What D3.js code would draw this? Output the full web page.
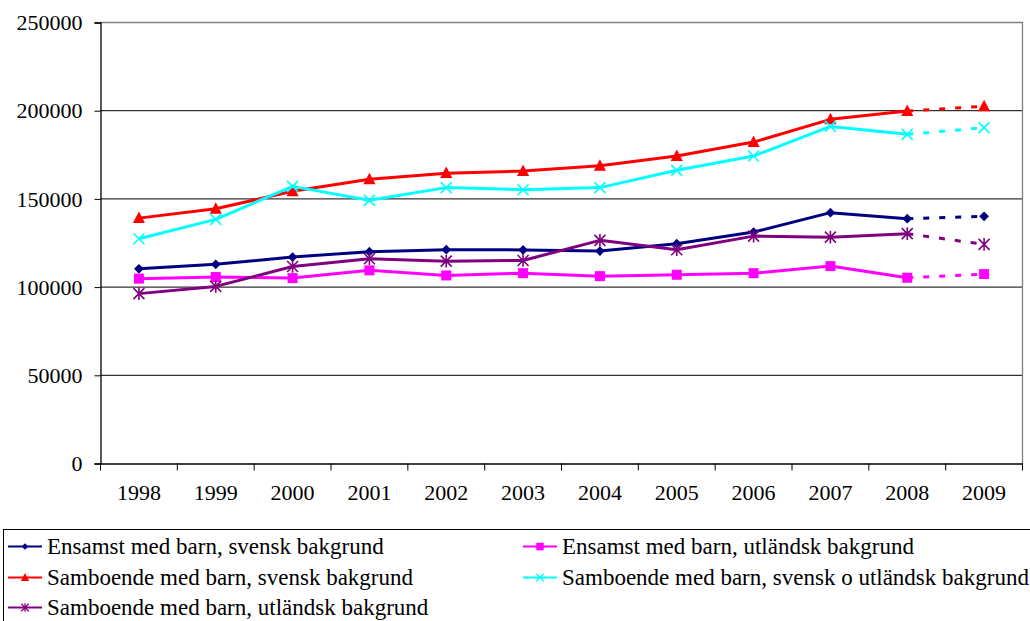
<!DOCTYPE html>
<html><head><meta charset="utf-8">
<script src="https://cdn.jsdelivr.net/npm/d3@7"></script>
<style>body{margin:0;background:#fff}svg{display:block}</style>
</head><body><svg id="c" width="1030" height="621"></svg>
<script>
const years = ["1998","1999","2000","2001","2002","2003","2004","2005","2006","2007","2008","2009"];
const yTicks = [0,50000,100000,150000,200000,250000];
const ensamstSvensk = [110400,112900,117000,120100,121200,121100,120400,124600,131200,142200,138800,140100];
const ensamstUtl = [104800,105700,105100,109500,106600,107900,106200,107000,107900,111900,105300,107400];
const samboSvensk = [139100,144400,154300,161100,164600,165800,168800,174300,182200,195100,199800,202500];
const samboSvUtl = [127400,138400,157100,149200,156400,155200,156400,166200,174300,191100,186600,190400];
const samboUtl = [96300,100400,111700,116100,114700,115100,126500,121200,128900,128300,130300,124200];
const seriesNames = ["Ensamst med barn, svensk bakgrund","Ensamst med barn, utländsk bakgrund","Samboende med barn, svensk bakgrund","Samboende med barn, svensk o utländsk bakgrund","Samboende med barn, utländsk bakgrund"];
const seriesColors = ["#000080","#FF00FF","#FF0000","#00FFFF","#800080"];
const seriesMarkers = ["diamond","square","triangle","x","star"];
const seriesValues = [ensamstSvensk, ensamstUtl, samboSvensk, samboSvUtl, samboUtl];

const FONT = "'Liberation Serif', 'DejaVu Serif', serif";
const svg = d3.select("#c");
const L = 100.5, R = 1022.5, T = 22.5, B = 463.5;
const x = d3.scaleBand().domain(years).range([L, R]);
const y = d3.scaleLinear().domain([0, 250000]).range([B, T]);

svg.append("g").selectAll("line").data(yTicks.filter(d => d > 0 && d < 250000)).join("line")
  .attr("x1", L).attr("x2", R).attr("y1", d => y(d)).attr("y2", d => y(d))
  .attr("stroke", "#000").attr("stroke-width", 1);
svg.append("path").attr("d", `M${L},${T}H${R}V${B}`).attr("fill", "none").attr("stroke", "#808080").attr("stroke-width", 1.3);

const ya = svg.append("g").attr("transform", `translate(${L},0)`)
  .call(d3.axisLeft(y).tickValues(yTicks).tickSize(6).tickFormat(d3.format("d")));
ya.attr("font-family", null).attr("font-size", null);
ya.select(".domain").attr("stroke", "#000").attr("stroke-width", 1.3);
ya.selectAll(".tick line").attr("stroke", "#000");
ya.selectAll("text").attr("x", -18).attr("dy", "0.33em").classed("ax", true);

const xa = svg.append("g").attr("transform", `translate(0,${B})`)
  .call(d3.axisBottom(x).tickSize(0).tickPadding(21));
xa.attr("font-family", null).attr("font-size", null);
xa.select(".domain").attr("stroke", "#000").attr("stroke-width", 1.3);
xa.selectAll("text").classed("ax", true);
const bounds = years.map(d => x(d)).concat([R]);
svg.append("g").selectAll("line").data(bounds).join("line")
  .attr("x1", d => d).attr("x2", d => d).attr("y1", B).attr("y2", B + 7)
  .attr("stroke", "#000").attr("stroke-width", 1);

const cx = d => x(d) + x.bandwidth() / 2;

function marker(g, type, color, s, sw) {
  if (type === "diamond") {
    g.append("path").attr("d", d3.symbol(d3.symbolDiamond2, s * s * 0.5)()).attr("fill", color);
  } else if (type === "square") {
    g.append("rect").attr("x", -s / 2).attr("y", -s / 2).attr("width", s).attr("height", s).attr("fill", color);
  } else if (type === "triangle") {
    g.append("path").attr("d", `M0,${-s * 0.6}L${s * 0.55},${s * 0.45}L${-s * 0.55},${s * 0.45}Z`).attr("fill", color);
  } else if (type === "x") {
    const h = s / 2;
    g.append("path").attr("d", `M${-h},${-h}L${h},${h}M${-h},${h}L${h},${-h}`).attr("stroke", color).attr("stroke-width", sw);
  } else if (type === "star") {
    const h = s / 2;
    g.append("path").attr("d", `M${-h},${-h}L${h},${h}M${-h},${h}L${h},${-h}M0,${-h * 1.15}V${h * 1.15}`).attr("stroke", color).attr("stroke-width", sw);
  }
}

const line = d3.line().x((d, i) => cx(years[i])).y(d => y(d));
seriesValues.forEach((vals, si) => {
  const g = svg.append("g");
  g.append("path").attr("d", line(vals.slice(0, 11))).attr("fill", "none").attr("stroke", seriesColors[si]).attr("stroke-width", 3).attr("stroke-linejoin", "round");
  const dashed = d3.line().x((d, i) => cx(years[10 + i])).y(d => y(d))(vals.slice(10, 12));
  g.append("path").attr("d", dashed).attr("fill", "none").attr("stroke", seriesColors[si]).attr("stroke-width", 3).attr("stroke-dasharray", "6 10");
  vals.forEach((v, i) => {
    const mg = g.append("g").attr("transform", `translate(${cx(years[i])},${y(v)})`);
    marker(mg, seriesMarkers[si], seriesColors[si], seriesMarkers[si] === "square" ? 10 : 11, 1.6);
  });
});

svg.append("rect").attr("x", 3.5).attr("y", 529.5).attr("width", 1040).attr("height", 120).attr("fill", "none").attr("stroke", "#000").attr("stroke-width", 1);
const legPos = [[8, 546.5], [523, 546.5], [8, 577.5], [523, 577.5], [8, 607.5]];
seriesNames.forEach((n, si) => {
  const [lx, ly] = legPos[si];
  const g = svg.append("g").attr("transform", `translate(${lx},${ly})`);
  g.append("line").attr("x1", 0).attr("x2", 34).attr("y1", 0).attr("y2", 0).attr("stroke", seriesColors[si]).attr("stroke-width", 2.2);
  marker(g.append("g").attr("transform", "translate(17,0)"), seriesMarkers[si], seriesColors[si], 7.5, 1.3);
  g.append("text").attr("class", "lg").attr("x", 39).attr("y", 0).attr("dy", "0.32em").text(n);
});

svg.selectAll("text").attr("font-family", FONT).attr("fill", "#000");
svg.selectAll("text.ax").attr("font-size", 22);
svg.selectAll("text.lg").attr("font-size", 23);
</script></body></html>
